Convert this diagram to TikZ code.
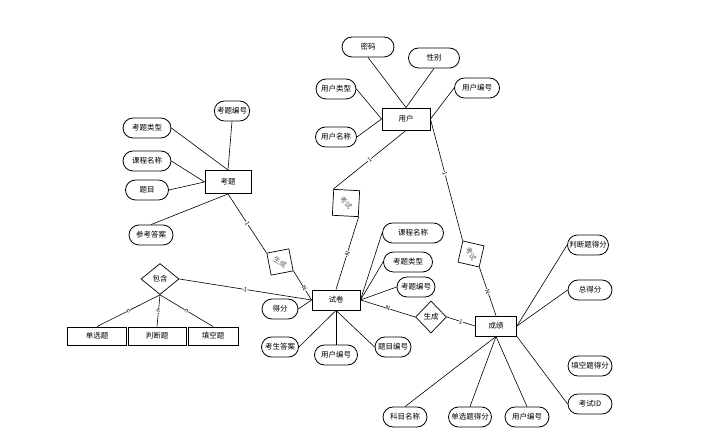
\documentclass[tikz,border=0pt]{standalone}
\usepackage{fontspec}
\newfontfamily\cjk{Noto Sans CJK SC}
\usetikzlibrary{
  shapes.geometric,%
  shapes.misc,%
  positioning
}
\tikzset{font=\cjk\fontsize{7.5}{9}\selectfont}
\tikzset{entity/.style={draw, line width=0.9pt, inner sep=1pt, minimum height=20}}
\tikzset{attr/.style={draw, rounded rectangle, line width=0.8pt, inner xsep=2pt, minimum height=20}}
\tikzset{rel/.style={draw, diamond, line width=0.7pt, inner sep=0pt}}
\tikzset{turned/.style={text=black!65, font=\cjk\fontsize{7}{8}\selectfont}}
\tikzset{card/.style={sloped, fill=white, inner sep=0.3pt, font=\cjk\fontsize{6}{6}\selectfont}}
\tikzset{link/.style={line width=0.6pt}}

\begin{document}
\begin{tikzpicture}[x=1pt, y=-1pt]
  \useasboundingbox (0,0) rectangle (720,435); %
  % entities
  \node[entity, minimum width=48, minimum height=22] (yonghu) at (406,119) {用户}; %
  \node[entity, minimum width=46, minimum height=23] (kaoti) at (228,182) {考题}; %
  \node[entity, minimum width=48] (shijuan) at (336,300) {试卷}; %
  \node[entity, minimum width=41] (chengji) at (496,326) {成绩}; %
  \node[entity, minimum width=59, minimum height=18] (danxuan) at (97,336) {单选题}; %
  \node[entity, minimum width=58, minimum height=18] (panduan) at (157,336) {判断题}; %
  \node[entity, minimum width=50, minimum height=18] (tiankong) at (213,336) {填空题}; %
  % relations
  \node[rel, turned, minimum width=37, minimum height=37, rotate=-48] (kaoshiA) at (346,203) {考试}; %
  \node[rel, turned, minimum width=32, minimum height=32, rotate=-34] (shengchengA) at (280,262) {生成}; %
  \node[rel, turned, minimum width=31, minimum height=31, rotate=-58] (kaoshiB) at (471,254) {考试}; %
  \node[rel, minimum width=31, minimum height=32] (shengchengB) at (431,317) {生成}; %
  \node[rel, minimum width=38, minimum height=31] (baohan) at (160,279) {包含}; %
  % attributes of 用户
  \node[attr, minimum width=56] (mima) at (368,47) {密码}; %
  \node[attr, minimum width=55] (xingbie) at (434,58) {性别}; %
  \node[attr, minimum width=44] (yhleixing) at (336,89) {用户类型}; %
  \node[attr, minimum width=45] (yhmingcheng) at (336,137) {用户名称}; %
  \node[attr, minimum width=49] (yhbianhao) at (477,88) {用户编号}; %
  % attributes of 考题
  \node[attr, minimum width=35] (ktbianhao) at (232,111) {考题编号}; %
  \node[attr, minimum width=52] (ktleixing) at (147,128) {考题类型}; %
  \node[attr, minimum width=52] (ktkecheng) at (147,161) {课程名称}; %
  \node[attr, minimum width=47] (timu) at (147,190) {题目}; %
  \node[attr, minimum width=48] (cankao) at (151,235) {参考答案}; %
  % attributes of 试卷
  \node[attr, minimum width=65] (sjkecheng) at (413,233) {课程名称}; %
  \node[attr, minimum width=53] (sjleixing) at (408,262) {考题类型}; %
  \node[attr, minimum width=42] (sjbianhao) at (416,287) {考题编号}; %
  \node[attr, minimum width=40] (defen) at (280,309) {得分}; %
  \node[attr, minimum width=41] (kaosheng) at (280,347) {考生答案}; %
  \node[attr, minimum width=47] (sjyonghu) at (336,355) {用户编号}; %
  \node[attr, minimum width=40] (timubh) at (393,347) {题目编号}; %
  % attributes of 成绩
  \node[attr, minimum width=45] (pdfen) at (588,245) {判断题得分}; %
  \node[attr, minimum width=48] (zongfen) at (590,290) {总得分}; %
  \node[attr, minimum width=48] (tkfen) at (590,366) {填空题得分}; %
  \node[attr, minimum width=48] (kaoshiid) at (590,404) {考试ID}; %
  \node[attr, minimum width=48] (kemu) at (405,417) {科目名称}; %
  \node[attr, minimum width=47] (dxfen) at (470,417) {单选题得分}; %
  \node[attr, minimum width=48] (cjyonghu) at (527,417) {用户编号}; %
  % attribute links
  \draw[link] (mima.south) -- (yonghu.north); %
  \draw[link] (xingbie.south) -- (yonghu.north); %
  \draw[link] (yhleixing.east) -- (yonghu.west); %
  \draw[link] (yhmingcheng.east) -- (yonghu.west); %
  \draw[link] (yhbianhao.west) -- (yonghu.east); %
  \draw[link] (ktbianhao.south) -- (kaoti.north); %
  \draw[link] (ktleixing.east) -- (kaoti.north); %
  \draw[link] (ktkecheng.east) -- (kaoti.west); %
  \draw[link] (timu.east) -- (kaoti.west); %
  \draw[link] (cankao.north) -- (kaoti.south); %
  \draw[link] (sjkecheng.west) -- (shijuan.east); %
  \draw[link] (sjleixing.west) -- (shijuan.east); %
  \draw[link] (sjbianhao.west) -- (shijuan.east); %
  \draw[link] (defen.east) -- (shijuan.west); %
  \draw[link] (kaosheng.east) -- (shijuan.south); %
  \draw[link] (sjyonghu.north) -- (shijuan.south); %
  \draw[link] (timubh.west) -- (shijuan.south); %
  \draw[link] (pdfen.west) -- (chengji.east); %
  \draw[link] (zongfen.west) -- (chengji.east); %
  \draw[link] (kaoshiid.west) -- (chengji.south east); %
  \draw[link] (kemu.north) -- (chengji.south); %
  \draw[link] (dxfen.north) -- (chengji.south); %
  \draw[link] (cjyonghu.north) -- (chengji.south); %
  % relation links
  \draw[link] (yonghu.south) -- node[card]{1} (kaoshiA.west); %
  \draw[link] (kaoshiA.east) -- node[card]{N} (shijuan.north); %
  \draw[link] (kaoti.south) -- node[card]{1} (shengchengA.west); %
  \draw[link] (shengchengA.east) -- node[card, pos=0.6]{N} (shijuan.west); %
  \draw[link] (yonghu.east) -- node[card, pos=0.45]{1} (kaoshiB.west); %
  \draw[link] (kaoshiB.east) -- node[card]{N} (chengji.north); %
  \draw[link] (shijuan.east) -- node[card]{N} (shengchengB.west); %
  \draw[link] (shengchengB.east) -- node[card]{1} (chengji.west); %
  \draw[link] (baohan.east) -- node[card]{1} (shijuan.west); %
  \draw[link] (baohan.south) -- node[card]{n} (danxuan.north); %
  \draw[link] (baohan.south) -- node[card]{n} (panduan.north); %
  \draw[link] (baohan.south) -- node[card]{n} (tiankong.north); %
\end{tikzpicture}
\end{document}
